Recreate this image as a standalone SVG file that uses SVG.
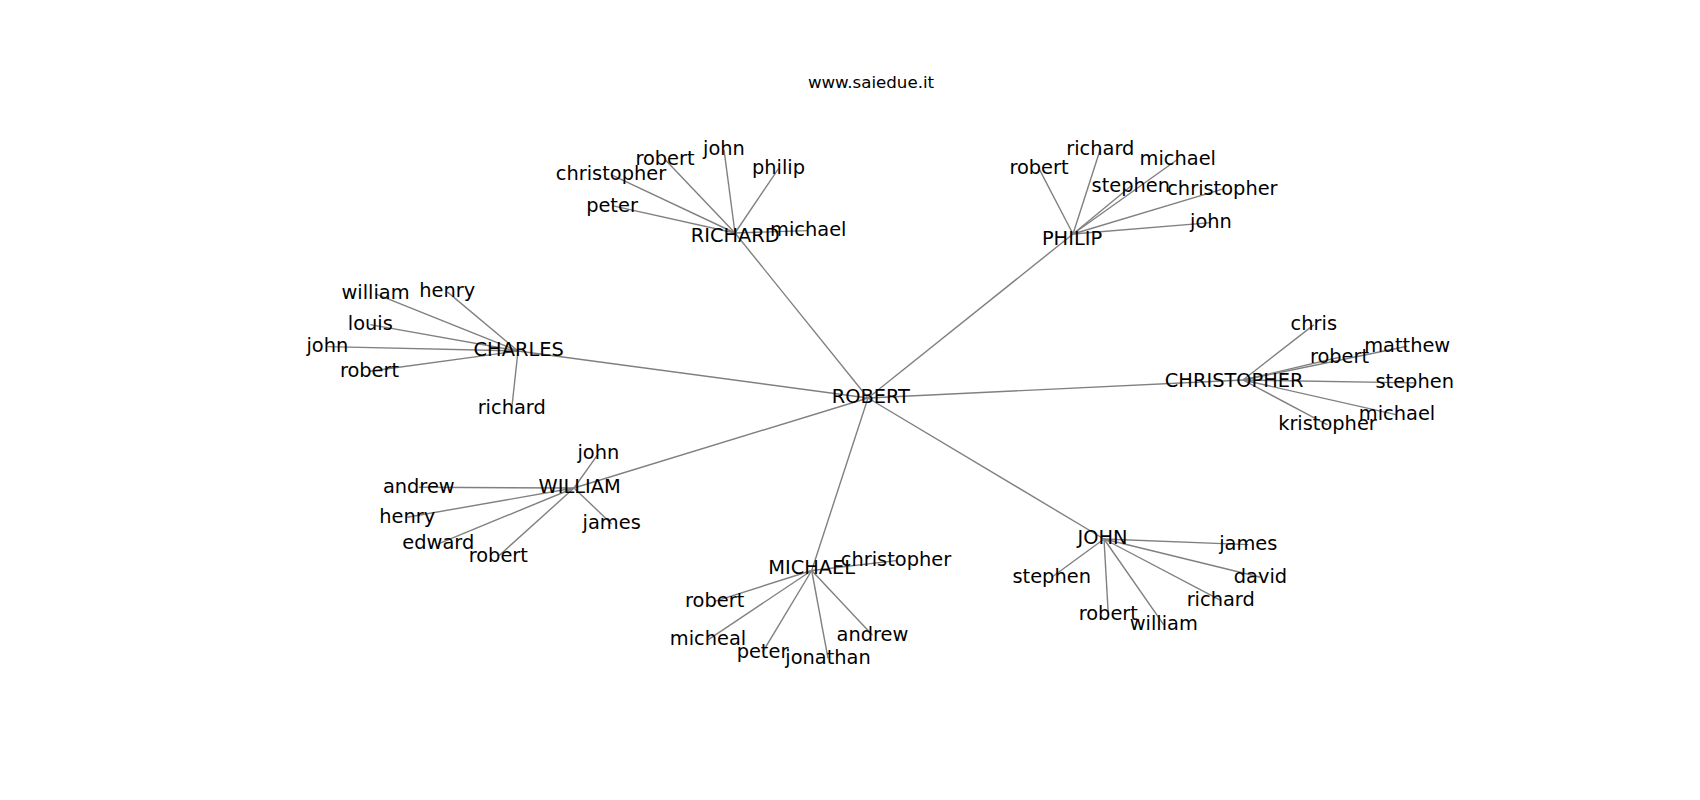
<svg xmlns="http://www.w3.org/2000/svg" width="1700" height="800" viewBox="0 0 1700 800">
<style>
text{font-family:"DejaVu Sans","Liberation Sans",sans-serif;fill:#000;text-anchor:middle}
.n text{font-size:19.4px}
.title{font-size:16.67px}
#edges line{stroke:#808080;stroke-width:1.4}
</style>
<rect width="1700" height="800" fill="#fff"/>
<text class="title" x="871" y="88">www.saiedue.it</text>
<g id="edges">
<line x1="868" y1="398" x2="735" y2="233"/>
<line x1="868" y1="398" x2="1073" y2="234"/>
<line x1="868" y1="398" x2="518" y2="351"/>
<line x1="868" y1="398" x2="1243" y2="380"/>
<line x1="868" y1="398" x2="574" y2="488"/>
<line x1="868" y1="398" x2="811.7" y2="570.5"/>
<line x1="868" y1="398" x2="1104" y2="539"/>
<line x1="735" y1="233" x2="611" y2="174.6"/>
<line x1="735" y1="233" x2="665" y2="159.6"/>
<line x1="735" y1="233" x2="724" y2="149.6"/>
<line x1="735" y1="233" x2="778.5" y2="168.6"/>
<line x1="735" y1="233" x2="612" y2="205.6"/>
<line x1="735" y1="233" x2="808.3" y2="230.6"/>
<line x1="1073" y1="234" x2="1039" y2="168.6"/>
<line x1="1073" y1="234" x2="1100.3" y2="149.3"/>
<line x1="1073" y1="234" x2="1177.8" y2="159.3"/>
<line x1="1073" y1="234" x2="1130.8" y2="186.3"/>
<line x1="1073" y1="234" x2="1222.4" y2="189.1"/>
<line x1="1073" y1="234" x2="1211" y2="222.6"/>
<line x1="518" y1="351" x2="375.5" y2="293.9"/>
<line x1="518" y1="351" x2="447.3" y2="291.9"/>
<line x1="518" y1="351" x2="370.3" y2="324.6"/>
<line x1="518" y1="351" x2="327.3" y2="346.6"/>
<line x1="518" y1="351" x2="369.5" y2="371.3"/>
<line x1="518" y1="351" x2="511.7" y2="408.9"/>
<line x1="1243" y1="380" x2="1313.8" y2="324.9"/>
<line x1="1243" y1="380" x2="1339.5" y2="357.3"/>
<line x1="1243" y1="380" x2="1407.2" y2="346.3"/>
<line x1="1243" y1="380" x2="1414.7" y2="382.9"/>
<line x1="1243" y1="380" x2="1397" y2="414.9"/>
<line x1="1243" y1="380" x2="1327.5" y2="424.9"/>
<line x1="574" y1="488" x2="598.3" y2="453.9"/>
<line x1="574" y1="488" x2="418.8" y2="487.3"/>
<line x1="574" y1="488" x2="407.2" y2="517.3"/>
<line x1="574" y1="488" x2="438.3" y2="543.9"/>
<line x1="574" y1="488" x2="498.3" y2="556.3"/>
<line x1="574" y1="488" x2="611.7" y2="523.9"/>
<line x1="811.7" y1="570.5" x2="896" y2="560.6"/>
<line x1="811.7" y1="570.5" x2="714.7" y2="601.3"/>
<line x1="811.7" y1="570.5" x2="708" y2="639.9"/>
<line x1="811.7" y1="570.5" x2="762.5" y2="652.3"/>
<line x1="811.7" y1="570.5" x2="828" y2="658.3"/>
<line x1="811.7" y1="570.5" x2="872.5" y2="635.3"/>
<line x1="1104" y1="539" x2="1248.3" y2="544.6"/>
<line x1="1104" y1="539" x2="1051.7" y2="577.3"/>
<line x1="1104" y1="539" x2="1260.5" y2="577.3"/>
<line x1="1104" y1="539" x2="1220.7" y2="600.3"/>
<line x1="1104" y1="539" x2="1108.3" y2="614.6"/>
<line x1="1104" y1="539" x2="1163.8" y2="624.9"/>
</g>
<g class="n" id="n-ROBERT"><text x="870.8" y="402.7">ROBERT</text></g>
<g class="n" id="n-RICHARD"><text x="735.3" y="242">RICHARD</text></g>
<g class="n" id="n-PHILIP"><text x="1072" y="245">PHILIP</text></g>
<g class="n" id="n-CHARLES"><text x="518.7" y="356">CHARLES</text></g>
<g class="n" id="n-CHRISTOPHER"><text x="1234.2" y="387.3">CHRISTOPHER</text></g>
<g class="n" id="n-WILLIAM"><text x="579.7" y="492.7">WILLIAM</text></g>
<g class="n" id="n-MICHAEL"><text x="811.7" y="574.3">MICHAEL</text></g>
<g class="n" id="n-JOHN"><text x="1102.5" y="544">JOHN</text></g>
<g class="n" id="n-richard-christopher"><text x="611" y="180">christopher</text></g>
<g class="n" id="n-richard-robert"><text x="665" y="165">robert</text></g>
<g class="n" id="n-richard-john"><text x="724" y="155">john</text></g>
<g class="n" id="n-richard-philip"><text x="778.5" y="174">philip</text></g>
<g class="n" id="n-richard-peter"><text x="612" y="212">peter</text></g>
<g class="n" id="n-richard-michael"><text x="808.3" y="236">michael</text></g>
<g class="n" id="n-philip-robert"><text x="1039" y="174">robert</text></g>
<g class="n" id="n-philip-richard"><text x="1100.3" y="154.7">richard</text></g>
<g class="n" id="n-philip-michael"><text x="1177.8" y="164.7">michael</text></g>
<g class="n" id="n-philip-stephen"><text x="1130.8" y="191.7">stephen</text></g>
<g class="n" id="n-philip-christopher"><text x="1222.4" y="194.5">christopher</text></g>
<g class="n" id="n-philip-john"><text x="1211" y="228">john</text></g>
<g class="n" id="n-charles-william"><text x="375.5" y="299.3">william</text></g>
<g class="n" id="n-charles-henry"><text x="447.3" y="297.3">henry</text></g>
<g class="n" id="n-charles-louis"><text x="370.3" y="330">louis</text></g>
<g class="n" id="n-charles-john"><text x="327.3" y="352">john</text></g>
<g class="n" id="n-charles-robert"><text x="369.5" y="376.7">robert</text></g>
<g class="n" id="n-charles-richard"><text x="511.7" y="414.3">richard</text></g>
<g class="n" id="n-christopher-chris"><text x="1313.8" y="330.3">chris</text></g>
<g class="n" id="n-christopher-robert"><text x="1339.5" y="362.7">robert</text></g>
<g class="n" id="n-christopher-matthew"><text x="1407.2" y="351.7">matthew</text></g>
<g class="n" id="n-christopher-stephen"><text x="1414.7" y="388.3">stephen</text></g>
<g class="n" id="n-christopher-michael"><text x="1397" y="420.3">michael</text></g>
<g class="n" id="n-christopher-kristopher"><text x="1327.5" y="430.3">kristopher</text></g>
<g class="n" id="n-william-john"><text x="598.3" y="459.3">john</text></g>
<g class="n" id="n-william-andrew"><text x="418.8" y="492.7">andrew</text></g>
<g class="n" id="n-william-henry"><text x="407.2" y="522.7">henry</text></g>
<g class="n" id="n-william-edward"><text x="438.3" y="549.3">edward</text></g>
<g class="n" id="n-william-robert"><text x="498.3" y="561.7">robert</text></g>
<g class="n" id="n-william-james"><text x="611.7" y="529.3">james</text></g>
<g class="n" id="n-michael-christopher"><text x="896" y="566">christopher</text></g>
<g class="n" id="n-michael-robert"><text x="714.7" y="606.7">robert</text></g>
<g class="n" id="n-michael-micheal"><text x="708" y="645.3">micheal</text></g>
<g class="n" id="n-michael-peter"><text x="762.5" y="657.7">peter</text></g>
<g class="n" id="n-michael-jonathan"><text x="828" y="663.7">jonathan</text></g>
<g class="n" id="n-michael-andrew"><text x="872.5" y="640.7">andrew</text></g>
<g class="n" id="n-john-james"><text x="1248.3" y="550">james</text></g>
<g class="n" id="n-john-stephen"><text x="1051.7" y="582.7">stephen</text></g>
<g class="n" id="n-john-david"><text x="1260.5" y="582.7">david</text></g>
<g class="n" id="n-john-richard"><text x="1220.7" y="605.7">richard</text></g>
<g class="n" id="n-john-robert"><text x="1108.3" y="620">robert</text></g>
<g class="n" id="n-john-william"><text x="1163.8" y="630.3">william</text></g>
</svg>
